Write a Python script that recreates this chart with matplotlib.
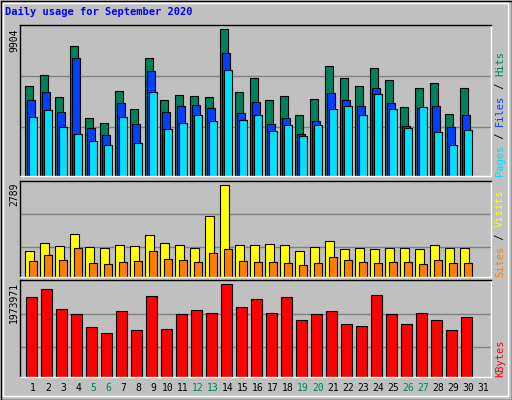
import matplotlib
matplotlib.use("Agg")
import numpy as np
import matplotlib.pyplot as plt
from matplotlib.patches import Rectangle

plt.rcParams.update({"font.family": "DejaVu Sans Mono", "font.size": 6.5})
BG = "#c0c0c0"; HITS = "#00805c"; FILES = "#0040ff"; PAGES = "#00e0ff"
SITES = "#ff8000"; VISITS = "#ffff00"; KB = "#ff0000"; GRID = "#808080"

days = np.arange(1, 31)
hits = [6055, 6798, 5312, 8756, 3894, 3557, 5717, 4502, 7946, 5110, 5447, 5380, 5312, 9904, 5650,
        6595, 5110, 5380, 4097, 5177, 7406, 6595, 6055, 7271, 6460, 4637, 5920, 6258, 4164, 5920]
files = [5110, 5650, 4299, 7946, 3219, 2746, 4907, 3489, 7068, 4299, 4705, 4772, 4570, 8284, 4232,
         4975, 3489, 3894, 2814, 3692, 5582, 5110, 4705, 5920, 4907, 3354, 4570, 4705, 3286, 4097]
pages = [3962, 4434, 3286, 2814, 2341, 2071, 3962, 2206, 5650, 3151, 3557, 4097, 3692, 7136, 3759,
         4097, 3016, 3422, 2679, 3422, 4502, 4705, 4097, 5515, 4502, 3219, 4637, 2949, 2071, 3084]
visits = [788, 1030, 939, 1303, 909, 879, 970, 939, 1273, 1030, 970, 879, 1849, 2789, 970,
          970, 1000, 970, 788, 909, 1091, 848, 879, 848, 879, 879, 848, 970, 879, 879]
sites = [485, 667, 515, 879, 424, 394, 455, 485, 788, 545, 515, 455, 727, 848, 485,
         455, 455, 424, 364, 424, 606, 515, 455, 424, 455, 455, 394, 515, 424, 424]
kbytes = [1714, 1866, 1453, 1345, 1063, 933, 1410, 998, 1735, 1020, 1345, 1432, 1367, 1974, 1497,
          1670, 1367, 1714, 1215, 1345, 1410, 1128, 1085, 1757, 1345, 1128, 1367, 1215, 998, 1280]
kbytes = [k * 1000 for k in kbytes]
kb_max_label = "1973971"
weekend = [5, 6, 12, 13, 19, 20, 26, 27]

W, H = 512, 400
fig = plt.figure(figsize=(W / 100, H / 100), dpi=100, facecolor=BG)

# bevelled outer frame
fig.patches.append(Rectangle((0.5 / W, 0.5 / H), 1 - 1 / W, 1 - 1 / H, transform=fig.transFigure,
                             fill=False, ec="black", lw=1))
fig.patches.append(Rectangle((3 / W, 4 / H), 1 - 7 / W, 1 - 7 / H, transform=fig.transFigure,
                             fill=False, ec="white", lw=1))

def panel(top, bottom):
    ax = fig.add_axes([20 / W, 1 - bottom / H, 471 / W, (bottom - top) / H])
    ax.set_facecolor(BG)
    ax.set_xlim(0.647, 32.05)
    ax.set_xticks([]); ax.set_yticks([])
    for s in ax.spines.values():
        s.set_color("black"); s.set_linewidth(1)
    ax.spines["right"].set_color("white"); ax.spines["bottom"].set_color("white")
    return ax

bk = dict(align="edge", edgecolor="black", linewidth=0.8)

ax1 = panel(25, 176)
ax1.set_ylim(0, 10195)
for g in (3301, 6731):
    ax1.axhline(g, color=GRID, lw=1, zorder=0)
ax1.bar(days, hits, 0.49, color=HITS, **bk)
ax1.bar(days + 0.113, files, 0.53, color=FILES, **bk)
ax1.bar(days + 0.227, pages, 0.53, color=PAGES, **bk)

ax2 = panel(180.7, 277)
ax2.set_ylim(0, 2920)
for g in (919, 1910):
    ax2.axhline(g, color=GRID, lw=1, zorder=0)
ax2.bar(days, visits, 0.56, color=VISITS, **bk)
ax2.bar(days + 0.267, sites, 0.49, color=SITES, **bk)

ax3 = panel(280.3, 377)
ax3.set_ylim(0, 2060700)
for g in (629000, 1345000):
    ax3.axhline(g, color=GRID, lw=1, zorder=0)
ax3.bar(days + 0.067, kbytes, 0.69, color=KB, **bk)

# max labels on the left
for ax, lab in [(ax1, str(max(hits))), (ax2, str(max(visits))), (ax3, kb_max_label)]:
    ax.text(-6 / 471, 0.98, lab, transform=ax.transAxes, rotation=90, ha="center", va="top",
            fontsize=7)

# day labels
for d in range(1, 32):
    ax3.text(d + 0.51, -0.06, str(d), transform=ax3.get_xaxis_transform(), ha="center", va="top",
             color=HITS if d in weekend else "black", fontsize=7)

# right-side legends, stacked from bottom
renderer = fig.canvas.get_renderer()
def legend(ax, parts):
    y = 0.0
    axh = ax.get_window_extent(renderer).height
    for txt, col in parts:
        t = ax.text(507 / W, y, txt, transform=ax.get_xaxis_transform() if False else
                    ax.transAxes, rotation=90, ha="center", va="bottom", color=col, fontsize=7.5)
        t.set_x(1 + 9 / 471)
        y += t.get_window_extent(renderer).height / axh

legend(ax1, [("Pages", PAGES), (" / ", "black"), ("Files", FILES), (" / ", "black"), ("Hits", HITS)])
legend(ax2, [("Sites", SITES), (" / ", "black"), ("Visits", VISITS)])
legend(ax3, [("KBytes", KB)])

fig.text(5 / W, 1 - 12 / H, "Daily usage for September 2020", color="#0000ff",
         fontweight="bold", fontsize=7.5, va="center")

fig.savefig("out.png", dpi=100, facecolor=BG)
